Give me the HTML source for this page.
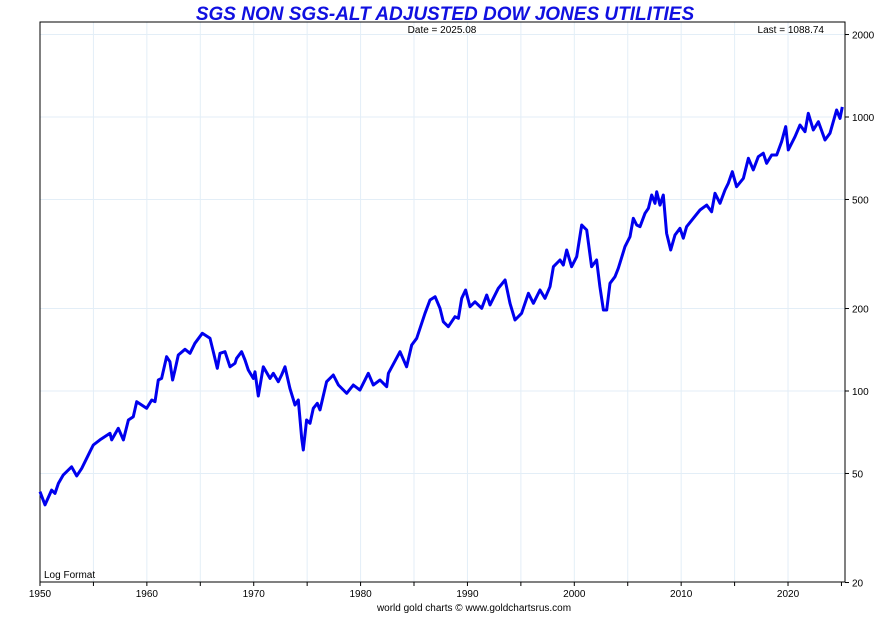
<!DOCTYPE html>
<html><head><meta charset="utf-8">
<style>
html,body{margin:0;padding:0;background:#fff;}
svg{display:block;font-family:"Liberation Sans",Arial,sans-serif;}
</style></head>
<body>
<svg id="chart" width="890" height="625">
  <text x="445" y="20" text-anchor="middle" font-size="19" font-weight="bold" font-style="italic" fill="#1010e0">SGS NON SGS-ALT ADJUSTED DOW JONES UTILITIES</text>
  <g id="grid"></g>
  <rect x="40" y="22" width="805" height="560" fill="none" stroke="#000" stroke-width="1"/>
  <g id="xaxis"></g>
  <g id="yaxis"></g>
  <path id="line" fill="none" stroke="#0000ee" stroke-width="3" stroke-linejoin="round"/>
  <text x="442" y="33" text-anchor="middle" font-size="10">Date = 2025.08</text>
  <text x="824" y="33" text-anchor="end" font-size="10">Last = 1088.74</text>
  <text x="44" y="578" font-size="10">Log Format</text>
  <text x="474" y="611" text-anchor="middle" font-size="10">world gold charts © www.goldchartsrus.com</text>
</svg>
<script>
const years=[1950.0,1950.47,1951.09,1951.4,1951.72,1952.18,1952.96,1953.43,1953.9,1954.68,1954.99,1955.61,1956.55,1956.71,1957.33,1957.8,1958.27,1958.73,1959.05,1959.98,1960.45,1960.76,1961.07,1961.38,1961.85,1962.16,1962.41,1962.63,1962.94,1963.57,1964.04,1964.5,1965.19,1965.91,1966.22,1966.59,1966.84,1967.31,1967.78,1968.25,1968.4,1968.87,1969.18,1969.49,1969.96,1970.12,1970.43,1970.9,1971.52,1971.83,1972.3,1972.61,1972.93,1973.39,1973.86,1974.17,1974.49,1974.64,1974.95,1975.27,1975.58,1975.95,1976.2,1976.82,1977.45,1977.92,1978.7,1979.32,1979.94,1980.72,1981.19,1981.82,1982.44,1982.6,1983.69,1984.31,1984.78,1985.25,1986.03,1986.5,1986.97,1987.43,1987.74,1988.21,1988.84,1989.15,1989.46,1989.83,1990.24,1990.71,1991.33,1991.8,1992.11,1992.89,1993.52,1993.98,1994.45,1995.07,1995.7,1996.17,1996.79,1997.26,1997.73,1998.04,1998.66,1998.97,1999.29,1999.75,2000.22,2000.69,2001.16,2001.62,2002.09,2002.4,2002.72,2003.03,2003.34,2003.81,2004.12,2004.74,2005.21,2005.52,2005.84,2006.15,2006.62,2006.93,2007.24,2007.55,2007.71,2008.02,2008.33,2008.64,2009.02,2009.42,2009.89,2010.2,2010.51,2011.14,2011.76,2012.39,2012.85,2013.17,2013.63,2014.1,2014.41,2014.79,2015.19,2015.82,2016.29,2016.75,2017.22,2017.69,2018.0,2018.47,2018.94,2019.4,2019.78,2020.03,2020.65,2021.12,2021.59,2021.9,2022.37,2022.84,2023.46,2023.93,2024.55,2024.86,2025.08];
const values=[42.9,38.4,43.5,42.3,46.0,49.4,52.9,49.0,52.2,60.1,63.5,66.3,70.1,66.3,73.1,66.3,78.4,80.6,91.4,86.5,92.7,91.4,109.7,111.2,133.4,127.9,109.7,119.3,135.3,142.0,137.3,149.3,162.4,155.7,139.1,121.0,137.3,139.1,122.6,126.2,131.6,139.1,129.8,119.3,111.2,117.5,95.9,122.6,111.2,116.0,108.1,114.4,122.6,102.3,88.9,92.7,67.2,60.9,78.4,76.2,86.5,90.2,85.3,108.1,114.4,105.2,98.1,105.2,100.8,116.0,105.2,109.7,103.7,116.0,139.1,122.6,147.2,155.7,192.1,214.8,220.9,200.3,179.0,171.7,186.7,184.2,217.9,233.6,203.0,211.7,200.3,224.0,206.1,237.0,254.1,208.9,181.6,192.1,227.3,208.9,233.6,217.9,240.2,284.2,300.6,288.4,327.1,284.2,309.1,403.6,386.9,284.2,300.6,240.2,197.5,197.5,247.2,261.3,280.4,336.4,365.6,426.8,403.6,397.9,445.3,464.2,519.2,484.1,533.9,477.1,519.2,376.4,327.1,370.9,392.4,361.0,397.9,426.8,457.8,477.1,451.0,526.6,484.1,541.6,572.8,631.3,556.6,597.4,706.6,640.9,716.2,737.4,677.7,726.9,726.9,812.8,922.4,758.3,847.6,935.3,883.6,1032,896.6,961.2,824.1,872.4,1061,988.6,1088.74];
const yTicks=[2000,1000,500,200,100,50,20];
const xTicks=[1950,1960,1970,1980,1990,2000,2010,2020];
const L=40,R=845,T=22,B=582;
const X=y=>40+(y-1950)*10.686;
const Y=v=>391-(Math.log10(v)-2)*274;
const ns="http://www.w3.org/2000/svg";
function mk(tag,attrs,parent,txt){const e=document.createElementNS(ns,tag);for(const k in attrs)e.setAttribute(k,attrs[k]);if(txt!==undefined)e.textContent=txt;parent.appendChild(e);return e;}
const grid=document.getElementById('grid'),xa=document.getElementById('xaxis'),ya=document.getElementById('yaxis');
for(let yr=1955;yr<2025;yr+=5){
  const g=mk('line',{x1:X(yr),x2:X(yr),y1:T,y2:B,stroke:'#e3eef7','stroke-width':1},grid);
  
  
}
for(let yr=1950;yr<=2025;yr+=5){
  const t=mk('line',{x1:X(yr),x2:X(yr),y1:B,y2:B+4,stroke:'#000'},xa);
  
  
}
xTicks.forEach(yr=>{
  const t=mk('text',{x:X(yr),y:B+15,'text-anchor':'middle','font-size':10},xa,String(yr));
  
  
});
yTicks.forEach(v=>{
  const y=Y(v);
  if(v!==20){const g=mk('line',{x1:L,x2:R,y1:y,y2:y,stroke:'#e3eef7','stroke-width':1},grid);
  
  }
  const t=mk('line',{x1:R,x2:R+4,y1:y,y2:y,stroke:'#000'},ya);
  
  
  const l=mk('text',{x:R+7,y:y+4,'font-size':10},ya,String(v));
  
  
});
document.getElementById('line').setAttribute('d',years.map((yr,i)=>(i?'L':'M')+X(yr).toFixed(1)+','+Y(values[i]).toFixed(1)).join(''));
</script>
</body></html>
